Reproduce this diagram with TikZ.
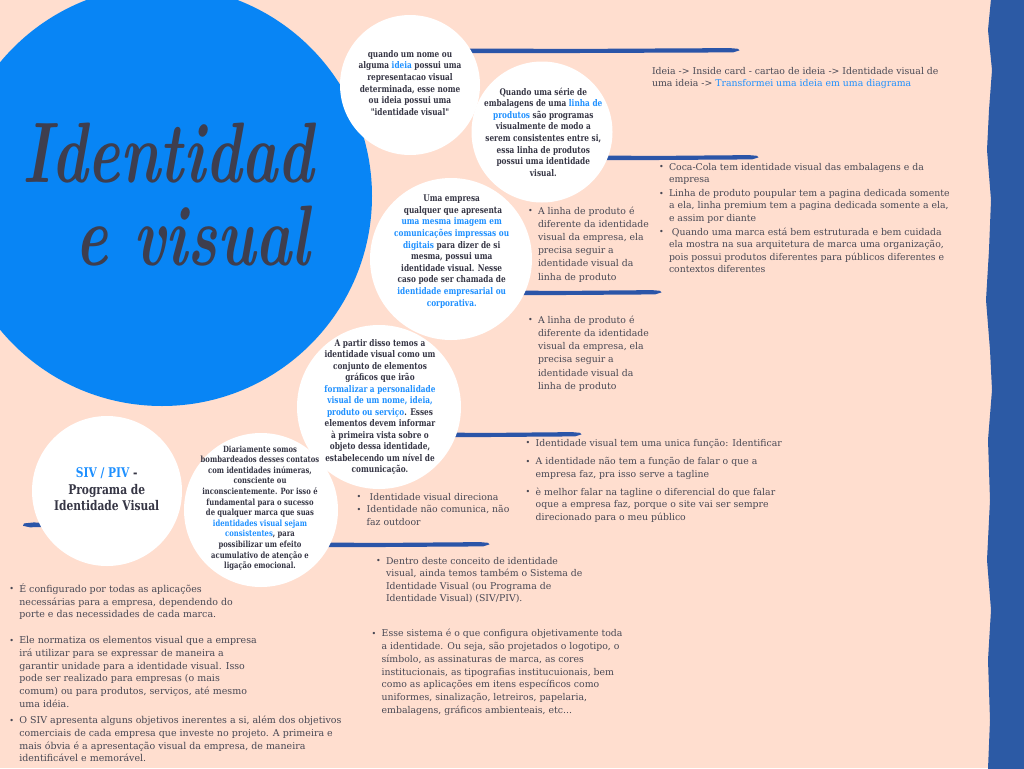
\documentclass[tikz,border=0pt]{standalone}
\usepackage{fontspec}
\setmainfont{DejaVu Serif}
\newfontfamily\circfont[FakeStretch=0.8]{DejaVu Serif}
\newfontfamily\titlefont{Latin Modern Roman}
\definecolor{bgpeach}{RGB}{255,222,207}
\definecolor{bigblue}{RGB}{8,133,245}
\definecolor{stripblue}{RGB}{44,90,165}
\definecolor{brushblue}{RGB}{43,85,168}
\definecolor{txtgray}{RGB}{72,72,84}
\definecolor{circgray}{RGB}{54,54,69}
\definecolor{txtblue}{RGB}{30,144,255}
\definecolor{titlegray}{RGB}{62,62,78}
\newcommand\hlb[1]{\textcolor{txtblue}{#1}}
\newcommand\bl{\makebox[7.5pt][l]{\raisebox{0.3pt}{\fontsize{6}{6}\selectfont •}}}
\newcommand\ind{\hspace*{7.5pt}}
\newcommand\fl{\rule{0pt}{7pt}}
\newcommand\brushstroke[3]{%
  \fill[brushblue] ({#1},{#3-1.6}) -- ({#1+10},{#3-2.6}) -- ({(#1+#2)/2},{#3-2.1}) -- ({#2-8},{#3-2.9}) -- ({#2},{#3-2.2}) -- ({#2+1.5},{#3-0.6}) -- ({#2-5},{#3+1.4}) -- ({(#1+#2)/2},{#3+2.0}) -- ({#1+6},{#3+2.3}) -- ({#1-1},{#3+0.8}) -- cycle;}
\begin{document}
\begin{tikzpicture}[x=0.75pt,y=-0.75pt,
  wcirc/.style={circle, fill=white, draw=none, inner sep=0pt},
  bodytxt/.style={anchor=north west, inner sep=0pt, outer sep=0pt, align=left, text=txtgray},
  circtxt/.style={anchor=north, inner sep=0pt, outer sep=0pt, align=center, text=circgray},
  titletxt/.style={anchor=base west, inner sep=0pt, text=titlegray, font=\titlefont\bfseries\itshape\fontsize{46}{46}\selectfont, yscale=1.4}]
\useasboundingbox (0,0) rectangle (1024,768);
\fill[bgpeach] (0,0) rectangle (1024,768);
% big blue circle and title
\node[circle, fill=bigblue, inner sep=0pt, minimum size=315pt] (bigc) at (162,196) {};
\node[titletxt] (title1) at (22,182) {Identidad};
\node[titletxt] (title2) at (75,265) {e visual};
% brush strokes
\brushstroke{420}{738}{51}
\brushstroke{560}{757}{158}
\brushstroke{470}{660}{293}
\brushstroke{400}{580}{435}
\brushstroke{280}{488}{545}
\brushstroke{24}{60}{525}
% white circles
\node[wcirc, minimum size=105pt] (cA) at (410,85) {};
\node[wcirc, minimum size=105.75pt] (cB) at (542,132) {};
\node[wcirc, minimum size=121.5pt] (cC) at (451,259) {};
\node[wcirc, minimum size=123pt] (cD) at (379,407) {};
\node[wcirc, minimum size=112.5pt] (cE) at (107,491) {};
\node[wcirc, minimum size=115.5pt] (cF) at (261,510) {};
% circle texts
\node[circtxt, font=\circfont\bfseries\fontsize{6.9}{8.7}\selectfont] (tA) at (410,48) {\fl quando um nome ou\\ alguma \hlb{ideia} possui uma\\ representacao visual\\ determinada, esse nome\\ ou ideia possui uma\\ "identidade visual"};
\node[circtxt, font=\circfont\bfseries\fontsize{6.9}{8.7}\selectfont] (tB) at (543.3,85.7) {\fl Quando uma série de\\ embalagens de uma \hlb{linha de}\\ \hlb{produtos} são programas\\ visualmente de modo a\\ serem consistentes entre si,\\ essa linha de produtos\\ possui uma identidade\\ visual.};
\node[circtxt, font=\circfont\bfseries\fontsize{6.9}{8.7}\selectfont] (tC) at (451.7,192.4) {\fl Uma empresa\\ \ qualquer que apresenta\\ \hlb{uma mesma imagem em}\\ \hlb{comunicações impressas ou}\\ \hlb{digitais} para dizer de si\\ mesma, possui uma\\ identidade visual. Nesse\\ caso pode ser chamada de\\ \hlb{identidade empresarial ou}\\ \hlb{corporativa.}};
\node[circtxt, font=\circfont\bfseries\fontsize{6.9}{8.65}\selectfont] (tD) at (380,336.7) {\fl A partir disso temos a\\ identidade visual como um\\ conjunto de elementos\\ gráficos que irão\\ \hlb{formalizar a personalidade}\\ \hlb{visual de um nome, ideia,}\\ \hlb{produto ou serviço}. Esses\\ elementos devem informar\\ à primeira vista sobre o\\ objeto dessa identidade,\\ estabelecendo um nível de\\ comunicação.};
\node[circtxt, font=\circfont\bfseries\fontsize{6.4}{7.95}\selectfont] (tF) at (260,442.7) {\fl Diariamente somos\\ bombardeados desses contatos\\ com identidades inúmeras,\\ consciente ou\\ inconscientemente. Por isso é\\ fundamental para o sucesso\\ de qualquer marca que suas\\ \hlb{identidades visual sejam}\\ \hlb{consistentes}, para\\ possibilizar um efeito\\ acumulativo de atenção e\\ ligação emocional.};
\node[circtxt, font=\circfont\bfseries\fontsize{10}{12.3}\selectfont] (tE) at (106.7,467.9) {\hlb{SIV / PIV} -\\ Programa de\\ Identidade Visual};
% body texts
\node[bodytxt, font=\fontsize{7}{9.6}\selectfont] (ideia) at (652,64.7) {\fl Ideia -> Inside card - cartao de ideia -> Identidade visual de\\ uma ideia -> \hlb{Transformei uma ideia em uma diagrama}};
\node[bodytxt, font=\fontsize{7}{9.4}\selectfont] (rlist) at (659,160.7) {\fl\bl Coca-Cola tem identidade visual das embalagens e da\\ \ind empresa\\[1pt]
\bl Linha de produto poupular tem a pagina dedicada somente\\ \ind a ela, linha premium tem a pagina dedicada somente a ela,\\ \ind e assim por diante\\[1pt]
\bl\ Quando uma marca está bem estruturada e bem cuidada\\ \ind ela mostra na sua arquitetura de marca uma organização,\\ \ind pois possui produtos diferentes para públicos diferentes e\\ \ind contextos diferentes};
\node[bodytxt, font=\fontsize{7}{9.9}\selectfont] (mlist1) at (528,204.7) {\fl\bl A linha de produto é\\ \ind diferente da identidade\\ \ind visual da empresa, ela\\ \ind precisa seguir a\\ \ind identidade visual da\\ \ind linha de produto};
\node[bodytxt, font=\fontsize{7}{9.9}\selectfont] (mlist2) at (528,314) {\fl\bl A linha de produto é\\ \ind diferente da identidade\\ \ind visual da empresa, ela\\ \ind precisa seguir a\\ \ind identidade visual da\\ \ind linha de produto};
\node[bodytxt, font=\fontsize{7}{9.5}\selectfont] (blist) at (525.7,436.7) {\fl\bl Identidade visual tem uma unica função: Identificar\\[4.5pt]
\bl A identidade não tem a função de falar o que a\\ \ind empresa faz, pra isso serve a tagline\\[3.8pt]
\bl è melhor falar na tagline o diferencial do que falar\\ \ind oque a empresa faz, porque o site vai ser sempre\\ \ind direcionado para o meu público};
\node[bodytxt, font=\fontsize{7}{9.4}\selectfont] (slist) at (356.7,490.7) {\fl\bl\ Identidade visual direciona\\ \bl Identidade não comunica, não\\ \ind faz outdoor};
\node[bodytxt, font=\fontsize{7}{9.45}\selectfont] (clist1) at (376,554.7) {\fl\bl Dentro deste conceito de identidade\\ \ind visual, ainda temos também o Sistema de\\ \ind Identidade Visual (ou Programa de\\ \ind Identidade Visual) (SIV/PIV).};
\node[bodytxt, font=\fontsize{7}{9.6}\selectfont] (clist2) at (371.7,627.4) {\fl\bl Esse sistema é o que configura objetivamente toda\\ \ind a identidade. Ou seja, são projetados o logotipo, o\\ \ind símbolo, as assinaturas de marca, as cores\\ \ind institucionais, as tipografias institucuionais, bem\\ \ind como as aplicações em itens específicos como\\ \ind uniformes, sinalização, letreiros, papelaria,\\ \ind embalagens, gráficos ambienteais, etc...};
\node[bodytxt, font=\fontsize{7.1}{9.5}\selectfont] (llist) at (9.3,583) {\fl\bl É configurado por todas as aplicações\\ \ind necessárias para a empresa, dependendo do\\ \ind porte e das necessidades de cada marca.\\[10pt]
\bl Ele normatiza os elementos visual que a empresa\\ \ind irá utilizar para se expressar de maneira a\\ \ind garantir unidade para a identidade visual. Isso\\ \ind pode ser realizado para empresas (o mais\\ \ind comum) ou para produtos, serviços, até mesmo\\ \ind uma idéia.\\[3pt]
\bl O SIV apresenta alguns objetivos inerentes a si, além dos objetivos\\ \ind comerciais de cada empresa que investe no projeto. A primeira e\\ \ind mais óbvia é a apresentação visual da empresa, de maneira\\ \ind identificável e memorável.};
% right strip
\fill[stripblue] (1025,-1) -- (991,-1) -- (988,30) -- (992,70) -- (989,110) -- (987,150) -- (991,200) -- (989,250) -- (986,300) -- (990,350) -- (992,390) -- (988,440) -- (990,500) -- (987,560) -- (991,610) -- (988,660) -- (990,720) -- (988,769) -- (1025,769) -- cycle;
\end{tikzpicture}
\end{document}
